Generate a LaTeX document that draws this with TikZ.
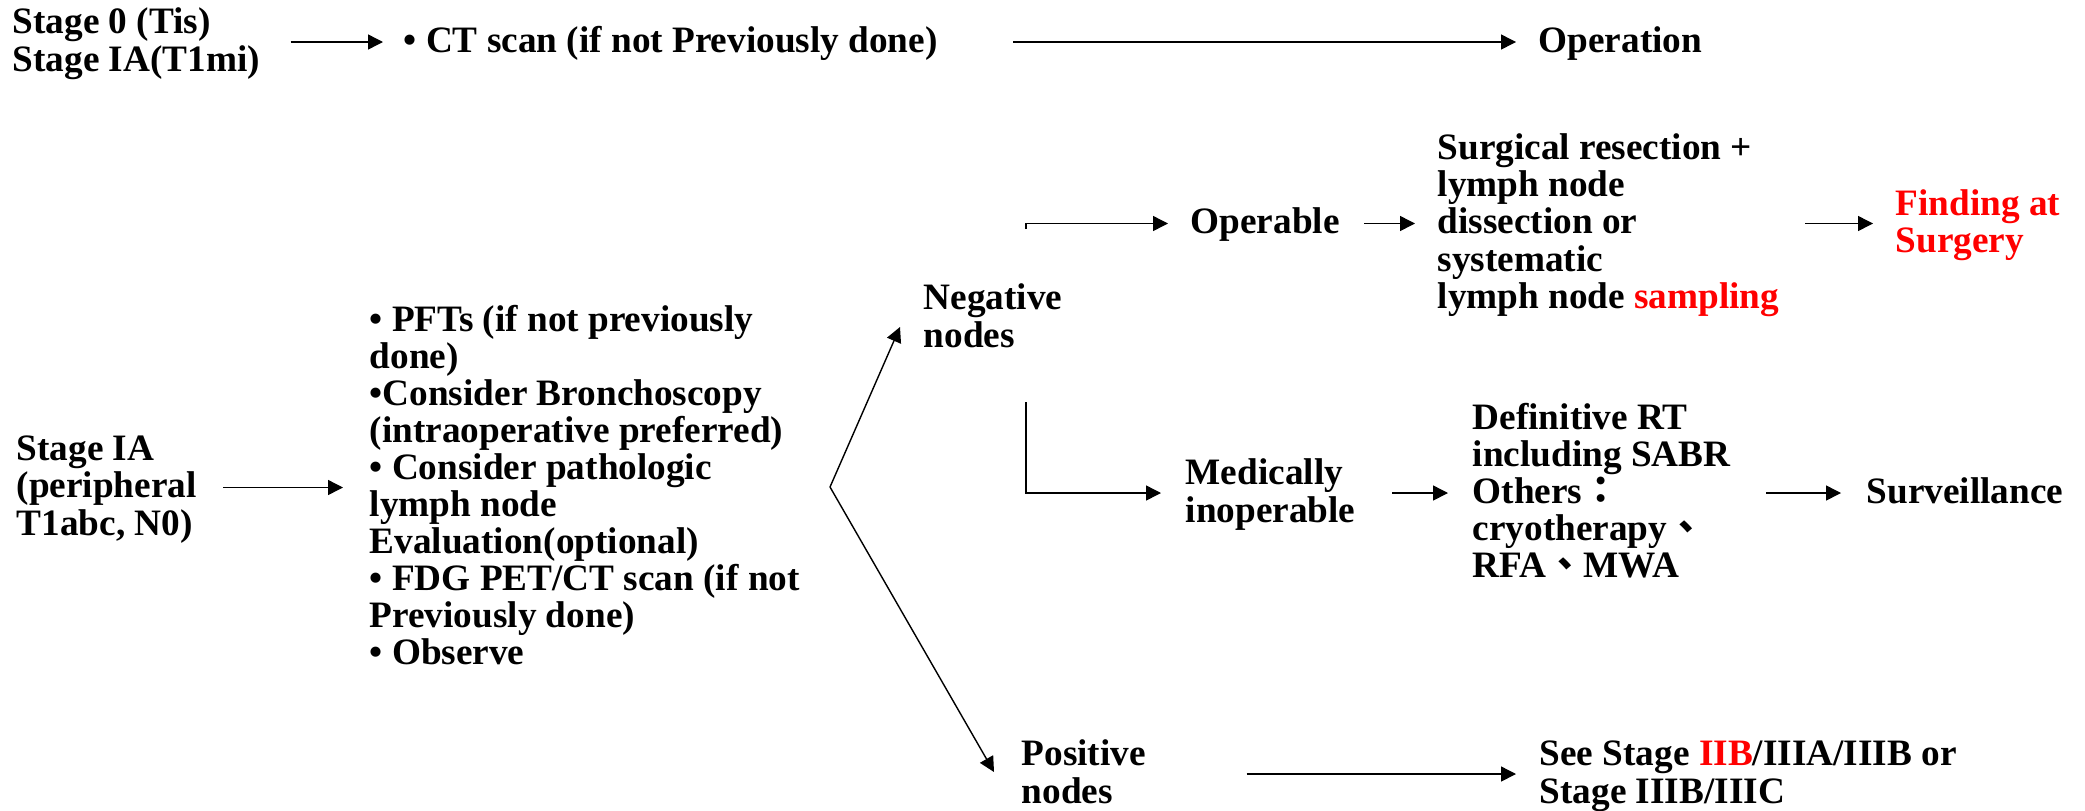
\documentclass[tikz,border=0pt]{standalone}
\usepackage{fontspec}
\setmainfont{Liberation Serif}
\newfontfamily\cjk{Noto Sans CJK TC}
\usetikzlibrary{arrows.meta}
\newcommand{\tstr}{\rule{0pt}{8.35pt}}
\newcommand{\bstr}{\rule[-2.4pt]{0pt}{2.4pt}}

\begin{document}
\begin{tikzpicture}[->, >={Triangle[length=1.5mm,width=1.5mm]}, line width=0.4pt,
	txt/.style={anchor=west, align=left, inner sep=0pt, font=\fontsize{10.6}{10.55}\selectfont\bfseries}]
	\useasboundingbox (0,0) rectangle (20.85,8.10);
	% Nodes
	\node[txt] (s0) at (0.12,7.68) {\tstr Stage 0 (Tis)\\Stage IA(T1mi)\bstr};
	\node[txt] (ct) at (4.03,7.68) {\tstr • CT scan (if not Previously done)\bstr};
	\node[txt] (op) at (15.38,7.68) {\tstr Operation\bstr};
	\node[txt] (s1) at (0.16,3.225) {\tstr Stage IA\\(peripheral\\T1abc, N0)\bstr};
	\node[txt] (work) at (3.69,3.225) {\tstr • PFTs (if not previously\\done)\\•Consider Bronchoscopy\\(intraoperative preferred)\\• Consider pathologic\\lymph node\\Evaluation(optional)\\• FDG PET/CT scan (if not\\Previously done)\\• Observe\bstr};
	\node[txt] (neg) at (9.23,4.92) {\tstr Negative\\nodes\bstr};
	\node[txt] (oper) at (11.90,5.865) {\tstr Operable\bstr};
	\node[txt] (surg) at (14.37,5.865) {\tstr Surgical resection +\\lymph node\\dissection or\\systematic\\lymph node \textcolor{red}{sampling}\bstr};
	\node[txt, text=red] (find) at (18.95,5.865) {\tstr Finding at\\Surgery\bstr};
	\node[txt] (inop) at (11.85,3.17) {\tstr Medically\\inoperable\bstr};
	\node[txt] (rt) at (14.72,3.17) {\tstr Definitive RT\\including SABR\\Others{\cjk ：}\\cryotherapy{\cjk 、}\\RFA{\cjk 、}MWA\bstr};
	\node[txt] (surv) at (18.66,3.17) {\tstr Surveillance\bstr};
	\node[txt] (pos) at (10.21,0.36) {\tstr Positive\\nodes\bstr};
	\node[txt] (see) at (15.39,0.36) {\tstr See Stage \textcolor{red}{IIB}/IIIA/IIIB or\\Stage IIIB/IIIC\bstr};
	\coordinate (fork) at (8.30,3.23);
	\coordinate (negtip) at (9.00,4.83);
	\coordinate (postip) at (9.94,0.38);
	\coordinate (negup) at (10.26,5.81);
	\coordinate (neglow) at (10.26,4.08);
	% Edges
	\draw[shorten <=3.0mm, shorten >=2mm] (s0) -- (ct);
	\draw[shorten <=7.5mm, shorten >=2.2mm] (ct) -- (op);
	\draw[shorten <=2.6mm, shorten >=2.6mm] (s1) -- (work);
	\draw (fork) -- (negtip);
	\draw (fork) -- (postip);
	\draw[shorten >=2.2mm] (negup) |- (oper);
	\draw[shorten >=2.4mm] (neglow) |- (inop);
	\draw[shorten <=2.4mm, shorten >=2.2mm] (oper) -- (surg);
	\draw[shorten <=2.5mm, shorten >=2.2mm] (surg) -- (find);
	\draw[shorten <=3.6mm, shorten >=2.4mm] (inop) -- (rt);
	\draw[shorten <=3.5mm, shorten >=2.5mm] (rt) -- (surv);
	\draw[shorten <=10.0mm, shorten >=2.3mm] (pos) -- (see);
\end{tikzpicture}
\end{document}
